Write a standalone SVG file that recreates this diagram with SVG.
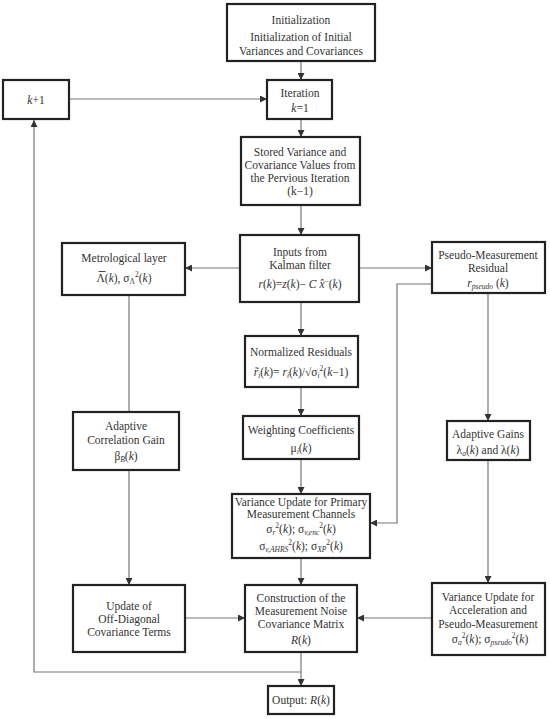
<svg xmlns="http://www.w3.org/2000/svg" width="550" height="719" viewBox="0 0 550 719">
<style>
.b{fill:#fff;stroke:#222;stroke-width:2.2}
text{font-family:"Liberation Serif","Times New Roman",serif;font-size:11.5px;fill:#333;text-anchor:middle}
.i{font-style:italic}
.s{font-size:7.5px}
.c{fill:none;stroke:#777;stroke-width:1.2}
</style>
<defs>
<marker id="a" viewBox="0 0 10 10" refX="10" refY="5" markerWidth="7" markerHeight="7" orient="auto" markerUnits="userSpaceOnUse"><path d="M0,0L10,5L0,10z" fill="#333"/></marker>
</defs>
<rect width="550" height="719" fill="#fff"/>
<g id="connectors">
<path class="c" marker-end="url(#a)" d="M301,62V80"/>
<path class="c" marker-end="url(#a)" d="M69,99H267"/>
<path class="c" marker-end="url(#a)" d="M301,120V137"/>
<path class="c" marker-end="url(#a)" d="M301,206V235"/>
<path class="c" marker-end="url(#a)" d="M240,268H185"/>
<path class="c" marker-end="url(#a)" d="M359,268H432"/>
<path class="c" marker-end="url(#a)" d="M432,284H397V523H370"/>
<path class="c" marker-end="url(#a)" d="M301,303V336"/>
<path class="c" marker-end="url(#a)" d="M301,388V416"/>
<path class="c" marker-end="url(#a)" d="M301,460V494"/>
<path class="c" marker-end="url(#a)" d="M301,559V585"/>
<path class="c" d="M129,296V412"/>
<path class="c" marker-end="url(#a)" d="M129,471V585"/>
<path class="c" marker-end="url(#a)" d="M488,294V421"/>
<path class="c" marker-end="url(#a)" d="M488,461V583"/>
<path class="c" marker-end="url(#a)" d="M432,618H357"/>
<path class="c" marker-end="url(#a)" d="M185,618H245"/>
<path class="c" marker-end="url(#a)" d="M301,653V686"/>
<path class="c" marker-end="url(#a)" d="M301,672H34V120"/>
</g>
<g id="init"><rect class="b" x="227" y="4" width="148" height="57"/>
<text x="301" y="24">Initialization</text>
<text x="301" y="41">Initialization of Initial</text>
<text x="301" y="55">Variances and Covariances</text></g>
<g id="kplus1"><rect class="b" x="3" y="80" width="66" height="39"/>
<text x="36" y="104"><tspan class="i">k</tspan>+1</text></g>
<g id="iteration"><rect class="b" x="267" y="80" width="65" height="39"/>
<text x="300" y="97">Iteration</text>
<text x="300" y="112"><tspan class="i">k</tspan>=1</text></g>
<g id="stored"><rect class="b" x="241" y="137" width="119" height="68"/>
<text x="300" y="156">Stored Variance and</text>
<text x="300" y="169">Covariance Values from</text>
<text x="300" y="182">the Pervious Iteration</text>
<text x="300" y="195">(k−1)</text></g>
<g id="inputs"><rect class="b" x="240" y="235" width="119" height="67"/>
<text x="300" y="256">Inputs from</text>
<text x="300" y="269">Kalman filter</text>
<text x="300" y="288"><tspan class="i">r</tspan>(<tspan class="i">k</tspan>)=<tspan class="i">z</tspan>(<tspan class="i">k</tspan>)− <tspan class="i">C</tspan> <tspan class="i">x̂</tspan><tspan class="s" dy="-4">−</tspan><tspan dy="4">(</tspan><tspan class="i">k</tspan>)</text></g>
<g id="metrological"><rect class="b" x="62" y="243" width="123" height="52"/>
<text x="124" y="262">Metrological layer</text>
<line x1="98.5" y1="271.5" x2="105.5" y2="271.5" stroke="#333" stroke-width="0.9"/>
<text x="124" y="282">Λ(<tspan class="i">k</tspan>), σ<tspan class="s" dy="2">Λ</tspan><tspan class="s" dy="-7">2</tspan><tspan dy="5">(</tspan><tspan class="i">k</tspan>)</text></g>
<g id="pseudo"><rect class="b" x="432" y="242" width="113" height="51"/>
<text x="488" y="259">Pseudo-Measurement</text>
<text x="488" y="272">Residual</text>
<text x="488" y="287"><tspan class="i">r</tspan><tspan class="s i" dy="2">pseudo</tspan><tspan dy="-2"> (</tspan><tspan class="i">k</tspan>)</text></g>
<g id="normalized"><rect class="b" x="245" y="336" width="113" height="51"/>
<text x="301" y="356">Normalized Residuals</text>
<text x="301" y="376"><tspan class="i">r̃</tspan><tspan class="s i" dy="2">i</tspan><tspan dy="-2">(</tspan><tspan class="i">k</tspan>)= <tspan class="i">r</tspan><tspan class="s i" dy="2">i</tspan><tspan dy="-2">(</tspan><tspan class="i">k</tspan>)/√σ<tspan class="s i" dy="2">i</tspan><tspan class="s" dy="-7">2</tspan><tspan dy="5">(</tspan><tspan class="i">k</tspan>−1)</text></g>
<g id="weighting"><rect class="b" x="243" y="416" width="116" height="43"/>
<text x="301" y="434">Weighting Coefficients</text>
<text x="301" y="452">μ<tspan class="s i" dy="2">i</tspan><tspan dy="-2">(</tspan><tspan class="i">k</tspan>)</text></g>
<g id="adaptivecorr"><rect class="b" x="73" y="412" width="106" height="58"/>
<text x="126" y="430">Adaptive</text>
<text x="126" y="444">Correlation Gain</text>
<text x="126" y="460">β<tspan class="s i" dy="2">B</tspan><tspan dy="-2">(</tspan><tspan class="i">k</tspan>)</text></g>
<g id="adaptivegains"><rect class="b" x="447" y="421" width="83" height="39"/>
<text x="488" y="438">Adaptive Gains</text>
<text x="488" y="454">λ<tspan class="s i" dy="2">a</tspan><tspan dy="-2">(</tspan><tspan class="i">k</tspan>) and  λ(<tspan class="i">k</tspan>)</text></g>
<g id="varprimary"><rect class="b" x="232" y="494" width="138" height="64"/>
<text x="301" y="506">Variance Update for Primary</text>
<text x="301" y="518">Measurement Channels</text>
<text x="301" y="533">σ<tspan class="s i" dy="2">r</tspan><tspan class="s" dy="-7">2</tspan><tspan dy="5">(</tspan><tspan class="i">k</tspan>); σ<tspan class="s i" dy="2">v,enc</tspan><tspan class="s" dy="-7">2</tspan><tspan dy="5">(</tspan><tspan class="i">k</tspan>)</text>
<text x="301" y="550">σ<tspan class="s i" dy="2">v,AHRS</tspan><tspan class="s" dy="-7">2</tspan><tspan dy="5">(</tspan><tspan class="i">k</tspan>); σ<tspan class="s i" dy="2">XP</tspan><tspan class="s" dy="-7">2</tspan><tspan dy="5">(</tspan><tspan class="i">k</tspan>)</text></g>
<g id="offdiag"><rect class="b" x="73" y="585" width="112" height="67"/>
<text x="129" y="610">Update of</text>
<text x="129" y="623">Off-Diagonal</text>
<text x="129" y="636">Covariance Terms</text></g>
<g id="construction"><rect class="b" x="245" y="585" width="112" height="67"/>
<text x="301" y="602">Construction of the</text>
<text x="301" y="615">Measurement Noise</text>
<text x="301" y="628">Covariance Matrix</text>
<text x="301" y="644"><tspan class="i">R</tspan>(<tspan class="i">k</tspan>)</text></g>
<g id="varaccel"><rect class="b" x="432" y="583" width="113" height="72"/>
<text x="488" y="601">Variance Update for</text>
<text x="488" y="614">Acceleration and</text>
<text x="488" y="628">Pseudo-Measurement</text>
<text x="490" y="643">σ<tspan class="s i" dy="2">a</tspan><tspan class="s" dy="-7">2</tspan><tspan dy="5">(</tspan><tspan class="i">k</tspan>); σ<tspan class="s i" dy="2">pseudo</tspan><tspan class="s" dy="-7">2</tspan><tspan dy="5">(</tspan><tspan class="i">k</tspan>)</text></g>
<g id="output"><rect class="b" x="268" y="686" width="66" height="28"/>
<text x="301" y="704">Output:  <tspan class="i">R</tspan>(<tspan class="i">k</tspan>)</text></g>
</svg>
